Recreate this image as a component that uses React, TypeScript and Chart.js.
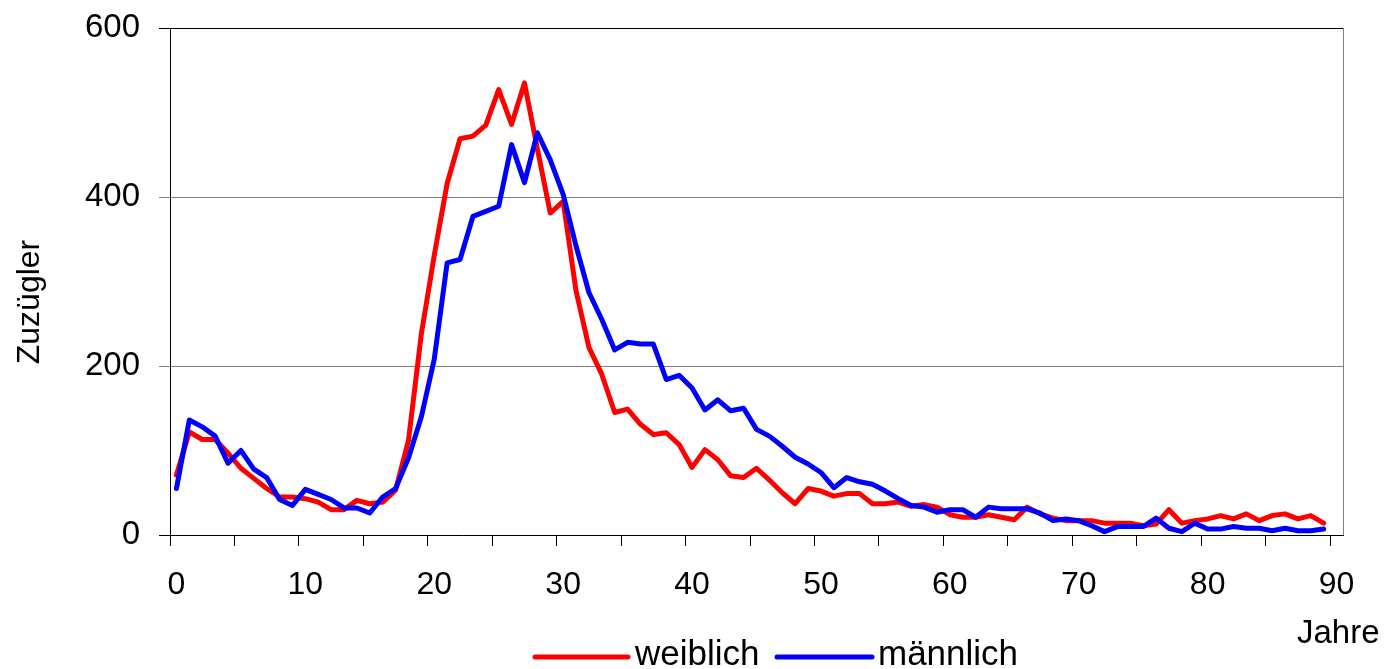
import React, { useEffect, useRef } from "react";
import { Chart, registerables } from "chart.js";

Chart.register(...registerables);

// Alter (Jahre) 0..89
const ages = [
  0, 1, 2, 3, 4, 5, 6, 7, 8, 9, 10, 11, 12, 13, 14, 15, 16, 17, 18, 19,
  20, 21, 22, 23, 24, 25, 26, 27, 28, 29, 30, 31, 32, 33, 34, 35, 36, 37, 38, 39,
  40, 41, 42, 43, 44, 45, 46, 47, 48, 49, 50, 51, 52, 53, 54, 55, 56, 57, 58, 59,
  60, 61, 62, 63, 64, 65, 66, 67, 68, 69, 70, 71, 72, 73, 74, 75, 76, 77, 78, 79,
  80, 81, 82, 83, 84, 85, 86, 87, 88, 89,
];

const weiblich = [
  71, 122, 113, 113, 97, 79, 67, 55, 45, 45, 43, 39, 30, 30, 41, 37, 39, 53, 112, 238,
  331, 416, 469, 472, 485, 527, 486, 535, 457, 381, 395, 289, 222, 190, 145, 149, 131, 119, 121, 107,
  80, 101, 89, 70, 68, 79, 65, 50, 37, 55, 52, 46, 49, 49, 37, 37, 39, 34, 36, 33,
  24, 21, 21, 24, 21, 18, 33, 25, 20, 17, 17, 17, 14, 14, 14, 11, 13, 30, 14, 17,
  19, 23, 19, 25, 17, 23, 25, 19, 23, 14,
];

const maennlich = [
  55, 136, 128, 117, 85, 100, 78, 68, 42, 35, 54, 48, 42, 32, 32, 26, 45, 55, 91, 140,
  208, 322, 326, 377, 383, 389, 462, 417, 476, 444, 403, 342, 287, 255, 219, 228, 226, 226, 184, 189,
  174, 148, 160, 147, 150, 125, 117, 105, 92, 84, 74, 56, 68, 63, 60, 52, 43, 35, 33, 27,
  30, 30, 21, 33, 31, 31, 31, 26, 17, 19, 17, 11, 4, 10, 10, 10, 20, 8, 4, 14,
  7, 7, 10, 8, 8, 5, 8, 5, 5, 7,
];

const seriesLabels = ["weiblich", "männlich"];
const xTickLabels = [0, 10, 20, 30, 40, 50, 60, 70, 80, 90];
const yTickValues = [0, 200, 400, 600];
const xTitle = "Jahre";
const yTitle = "Zuzügler";

const FONT = '"Liberation Sans", Arial, sans-serif';
const RED = "#FF0000";
const BLUE = "#0000FF";

const W = 1384;
const H = 669;

export default function App() {
  const ref = useRef<HTMLCanvasElement | null>(null);

  useEffect(() => {
    if (!ref.current) return;

    const isBoundary = (v: number) => Math.abs(v - Math.round(v)) > 0.25;

    const textPlugin = {
      id: "extraText",
      afterDraw(chart: any) {
        const { ctx, chartArea } = chart;
        ctx.save();
        // right frame line
        ctx.strokeStyle = "#808080";
        ctx.lineWidth = 1;
        ctx.beginPath();
        ctx.moveTo(Math.round(chartArea.right) + 0.5, chartArea.top);
        ctx.lineTo(Math.round(chartArea.right) + 0.5, chartArea.bottom);
        ctx.stroke();

        ctx.fillStyle = "#000";
        // y title
        ctx.save();
        ctx.font = `32px ${FONT}`;
        ctx.translate(30, 302);
        ctx.rotate(-Math.PI / 2);
        ctx.textAlign = "center";
        ctx.textBaseline = "middle";
        ctx.fillText(yTitle, 0, 0);
        ctx.restore();

        // x title
        ctx.font = `33px ${FONT}`;
        ctx.textAlign = "left";
        ctx.textBaseline = "alphabetic";
        ctx.fillText(xTitle, 1297, 643);

        // legend
        const ds = chart.data.datasets;
        const items = [
          { x0: 535, x1: 628, tx: 635 },
          { x0: 777, x1: 872, tx: 878 },
        ];
        ctx.font = `35px ${FONT}`;
        items.forEach((it, i) => {
          ctx.strokeStyle = ds[i].borderColor;
          ctx.lineWidth = 5;
          ctx.lineCap = "round";
          ctx.beginPath();
          ctx.moveTo(it.x0, 657);
          ctx.lineTo(it.x1, 657);
          ctx.stroke();
          ctx.fillStyle = "#000";
          ctx.fillText(ds[i].label, it.tx, 665);
        });
        ctx.restore();
      },
    };

    const chart = new Chart(ref.current, {
      type: "line",
      data: {
        datasets: [
          {
            label: seriesLabels[0],
            data: ages.map((a, i) => ({ x: a, y: weiblich[i] })),
            borderColor: RED,
            backgroundColor: RED,
            borderWidth: 5,
            pointRadius: 0,
            tension: 0,
            borderJoinStyle: "round",
            borderCapStyle: "round",
            order: 1,
          },
          {
            label: seriesLabels[1],
            data: ages.map((a, i) => ({ x: a, y: maennlich[i] })),
            borderColor: BLUE,
            backgroundColor: BLUE,
            borderWidth: 5,
            pointRadius: 0,
            tension: 0,
            borderJoinStyle: "round",
            borderCapStyle: "round",
            order: 0,
          },
        ],
      },
      options: {
        responsive: false,
        animation: false,
        events: [],
        layout: { padding: { left: 0, right: 41, top: 28, bottom: 0 } },
        plugins: {
          legend: { display: false },
          tooltip: { enabled: false },
          title: { display: false },
        },
        scales: {
          x: {
            type: "linear",
            min: -0.5,
            max: 90.5,
            afterFit(scale: any) {
              scale.height = H - 535;
              scale.paddingLeft = 0;
              scale.paddingRight = 0;
            },
            afterBuildTicks(scale: any) {
              const vals: number[] = [];
              for (let k = 0; k <= 18; k++) vals.push(-0.5 + 5 * k);
              xTickLabels.forEach((v) => vals.push(v));
              vals.sort((a, b) => a - b);
              scale.ticks = vals.map((v) => ({ value: v }));
            },
            border: { display: true, color: "#000", width: 1 },
            grid: {
              drawOnChartArea: false,
              drawTicks: true,
              tickLength: 11,
              tickWidth: 1,
              color: "#000",
              tickColor: (c: any) =>
                c.tick && isBoundary(c.tick.value) ? "#000" : "rgba(0,0,0,0)",
            },
            ticks: {
              autoSkip: false,
              maxRotation: 0,
              minRotation: 0,
              padding: 20,
              color: "#000",
              font: { family: FONT, size: 32 },
              callback: (v: any) => (xTickLabels.includes(v) ? String(v) : ""),
            },
          },
          y: {
            min: 0,
            max: 600,
            afterFit(scale: any) {
              scale.width = 170;
              scale.paddingTop = 0;
              scale.paddingBottom = 0;
            },
            afterBuildTicks(scale: any) {
              scale.ticks = yTickValues.map((v) => ({ value: v }));
            },
            border: { display: true, color: "#000", width: 1 },
            grid: {
              drawOnChartArea: true,
              tickLength: 11,
              color: (c: any) =>
                c.tick && c.tick.value === 600 ? "#000" : "#808080",
              tickColor: (c: any) =>
                c.tick && (c.tick.value === 600 || c.tick.value === 0)
                  ? "#000"
                  : "#808080",
            },
            ticks: {
              padding: 19,
              color: "#000",
              font: { family: FONT, size: 33 },
            },
          },
        },
      },
      plugins: [textPlugin],
    } as any);

    return () => chart.destroy();
  }, []);

  return (
    <div style={{ position: "absolute", left: 0, top: 0, width: W, height: H, background: "#fff" }}>
      <canvas ref={ref} width={W} height={H} style={{ display: "block" }} />
    </div>
  );
}
